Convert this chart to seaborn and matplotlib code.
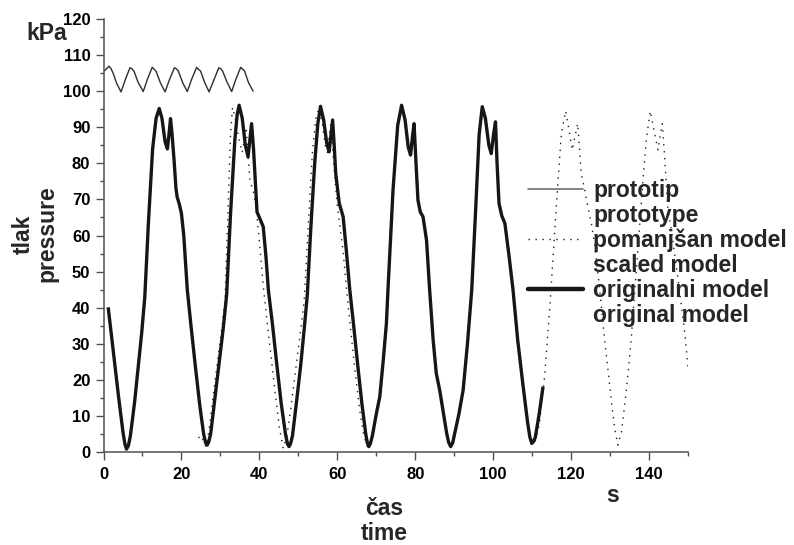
import matplotlib
matplotlib.use("Agg")
import matplotlib.pyplot as plt
from matplotlib.lines import Line2D
from matplotlib.ticker import MultipleLocator
import seaborn as sns

# --- pressure traces (time in s, pressure in kPa) ---
proto_t = [0.2, 1.4, 1.9, 2.5, 3.4, 4.5, 5.7, 6.8, 7.3, 7.8, 8.9, 10.2,
           11.3, 12.5, 13.0, 13.5, 14.6, 15.8, 17.0, 18.2, 18.7, 19.2, 20.3, 21.5,
           22.7, 23.9, 24.4, 24.9, 26.0, 27.1, 28.4, 29.6, 30.1, 30.6, 31.7, 32.9,
           34.0, 35.2, 35.7, 36.2, 37.2, 38.4]
proto_p = [105.6, 106.9, 106.3, 104.9, 102.1, 99.8, 103.5, 106.5, 106.2, 105.6, 102.4, 99.9,
           103.4, 106.6, 106.1, 105.5, 102.3, 99.8, 103.4, 106.5, 106.2, 105.6, 102.4, 99.9,
           103.5, 106.6, 106.0, 105.6, 102.3, 99.8, 103.3, 106.5, 106.2, 105.5, 102.5, 99.9,
           103.4, 106.6, 106.1, 105.6, 102.4, 100.0]

scaled_t = [24.4, 24.9, 25.4, 25.9, 26.3, 27.0, 27.7, 28.6, 29.5, 30.4, 31.2, 32.0,
            32.6, 33.1, 33.8, 34.7, 35.6, 36.1, 36.6, 37.1, 37.6, 38.4, 39.3, 40.2,
            41.0, 42.0, 43.0, 44.1, 45.1, 46.1, 47.0, 48.0, 49.0, 50.0, 50.8, 51.5,
            52.5, 53.6, 54.5, 55.3, 56.1, 56.9, 57.5, 57.9, 58.3, 58.8, 59.3, 60.0,
            60.6, 61.5, 62.4, 63.5, 64.6, 65.7, 66.8, 67.8, 68.9, 69.9, 70.8, 71.7,
            72.5, 72.9, 74.2, 75.4, 76.4, 77.3, 78.1, 78.7, 79.2, 79.6, 80.1, 80.6,
            81.2, 81.9, 82.8, 83.6, 84.5, 85.3, 86.2, 87.1, 88.0, 89.0, 89.9, 91.1,
            92.2, 93.3, 94.4, 95.4, 96.3, 97.1, 97.9, 98.8, 99.4, 100.0, 100.5, 100.9,
            101.4, 102.1, 102.9, 103.9, 105.0, 106.2, 107.5, 108.7, 109.8, 110.6, 111.9, 113.2,
            114.6, 116.2, 117.5, 118.6, 119.5, 120.3, 121.1, 121.7, 122.6, 123.5, 124.3, 125.2,
            126.1, 126.9, 127.8, 128.6, 129.5, 130.3, 131.2, 132.0, 132.9, 133.7, 134.6, 135.4,
            136.5, 137.6, 138.5, 139.3, 140.3, 141.3, 142.3, 142.9, 143.4, 144.0, 144.8, 146.1,
            147.8, 149.1, 150.0]
scaled_p = [4.2, 3.3, 3.8, 2.0, 1.5, 5.5, 11.6, 19.5, 27.0, 34.5, 42.5, 68.0,
            88.0, 95.5, 92.5, 87.0, 83.0, 86.5, 90.0, 82.0, 75.0, 72.6, 66.5, 56.0,
            46.0, 36.0, 26.5, 16.0, 7.0, 1.0, 4.0, 11.5, 20.0, 28.5, 35.5, 42.0,
            62.0, 83.0, 92.5, 95.3, 91.5, 85.0, 83.0, 87.5, 91.0, 84.0, 77.0, 68.0,
            63.3, 55.5, 44.9, 33.0, 22.0, 12.0, 4.5, 1.3, 4.5, 10.5, 15.3, 25.5,
            35.6, 44.9, 72.6, 90.5, 96.0, 92.0, 84.5, 82.3, 87.5, 91.0, 80.0, 69.8,
            66.5, 65.2, 58.7, 44.9, 31.0, 21.8, 17.0, 11.0, 5.0, 1.5, 4.5, 10.5,
            17.2, 30.0, 44.9, 67.0, 88.0, 95.6, 92.5, 85.0, 82.7, 88.0, 91.5, 80.0,
            68.9, 65.5, 63.4, 55.0, 44.9, 31.0, 19.0, 8.5, 2.2, 2.0, 8.0, 21.0,
            41.0, 68.0, 88.3, 94.5, 89.0, 83.7, 88.0, 91.0, 77.2, 72.6, 68.0, 63.4,
            57.0, 49.5, 40.0, 31.0, 22.5, 14.4, 6.5, 1.9, 5.5, 12.5, 21.5, 31.0,
            47.0, 63.4, 76.0, 86.4, 94.5, 89.0, 83.7, 88.0, 91.0, 81.8, 68.0, 58.7,
            44.9, 33.8, 23.6]

orig_t = [1.2, 2.6, 3.9, 5.0, 5.5, 5.9, 6.4, 6.9, 8.0, 9.0, 9.8, 10.6, 11.5, 12.6,
          13.5, 14.3, 15.0, 15.8, 16.4, 16.9, 17.2, 17.6, 18.1, 18.6, 18.9, 19.5,
          20.0, 20.6, 21.5, 22.5, 23.6, 24.7, 25.7, 26.2, 26.6, 27.0, 27.5, 28.6, 29.7, 30.7,
          31.6, 32.6, 33.7, 34.3, 34.8, 35.6, 36.4, 37.1, 37.6, 38.0, 38.5, 39.0,
          39.4, 40.2, 41.0, 41.7, 42.3, 43.4, 44.5, 45.6, 46.7, 47.2, 47.6, 48.0, 48.5, 49.6,
          50.6, 51.5, 52.3, 53.2, 54.2, 55.0, 55.7, 56.5, 57.3, 57.9, 58.4, 58.8,
          59.2, 59.6, 60.5, 61.5, 62.3, 63.2, 64.2, 65.2, 66.3, 67.3, 67.7, 68.1, 68.5, 69.0,
          70.0, 70.9, 71.8, 72.6, 73.0, 74.3, 75.5, 76.5, 77.4, 78.2, 78.8, 79.3,
          79.7, 80.2, 80.7, 81.3, 82.0, 82.9, 83.7, 84.6, 85.4, 86.3, 87.2, 88.1,
          88.6, 89.1, 89.6, 90.0, 91.2, 92.3, 93.4, 94.5, 95.5, 96.4, 97.2, 98.0, 98.9, 99.5,
          100.1, 100.6, 101.0, 101.5, 102.2, 103.0, 104.0, 105.1, 106.3, 107.6, 108.8, 109.4,
          109.9, 110.3, 110.8, 111.8, 112.8]
orig_p = [40.1, 27.0, 15.0, 5.5, 2.2, 0.8, 1.8, 4.5, 14.0, 24.5, 33.0, 43.0, 63.0, 84.0,
          92.5, 95.2, 92.5, 86.0, 84.0, 89.0, 92.4, 88.0, 81.0, 73.0, 70.7, 68.5,
          66.1, 60.0, 45.0, 34.5, 23.5, 13.0, 5.0, 2.6, 1.9, 2.8, 5.0, 15.0, 25.0, 34.0,
          43.5, 66.0, 86.4, 93.5, 96.1, 92.5, 85.0, 81.8, 87.0, 91.0, 84.0, 74.0,
          66.5, 64.5, 62.4, 54.0, 45.0, 35.0, 24.0, 13.5, 5.0, 2.3, 1.5, 2.3, 4.5, 14.5,
          24.0, 34.0, 43.5, 62.0, 80.0, 91.0, 95.8, 92.0, 85.5, 83.2, 88.0, 92.0,
          85.0, 77.2, 68.9, 65.2, 56.0, 45.0, 35.0, 24.5, 13.5, 5.0, 2.5, 1.5, 2.4, 4.5,
          10.5, 15.3, 25.5, 35.6, 44.9, 72.6, 90.5, 96.1, 92.0, 84.5, 82.3, 87.5,
          91.0, 80.0, 69.8, 66.5, 65.2, 58.7, 44.9, 31.0, 21.8, 17.0, 11.0, 5.0,
          2.6, 1.5, 2.5, 4.5, 10.5, 17.2, 30.0, 44.9, 67.0, 88.0, 95.7, 92.5, 85.0, 82.7,
          88.0, 91.5, 80.0, 68.9, 65.5, 63.4, 55.0, 44.9, 31.0, 19.0, 8.5, 4.2,
          2.4, 2.8, 4.0, 10.5, 18.1]

legend_labels = ["prototip", "prototype",
                 "pomanjšan model", "scaled model",
                 "originalni model", "original model"]
x_ticks = [0, 20, 40, 60, 80, 100, 120, 140]
y_ticks = [0, 10, 20, 30, 40, 50, 60, 70, 80, 90, 100, 110, 120]

sns.set_theme(style="ticks")
plt.rcParams["font.family"] = ["Liberation Sans", "DejaVu Sans"]
plt.rcParams["font.weight"] = "bold"
plt.rcParams["axes.labelweight"] = "bold"

W, H = 794, 545
fig = plt.figure(figsize=(W / 100, H / 100), dpi=100)
x0, x1, y_top, y_bot = 103.5, 688.0, 19.0, 452.0
ax = fig.add_axes([x0 / W, (H - y_bot) / H, (x1 - x0) / W, (y_bot - y_top) / H])

ink = "#161616"
proto_style = dict(color="#2e2e2e", linewidth=1.0)
scaled_style = dict(color="#1e1e1e", linewidth=1.0, linestyle=(0, (1, 4)))
orig_style = dict(color=ink, linewidth=2.4, solid_capstyle="butt", solid_joinstyle="round")

sns.lineplot(x=scaled_t, y=scaled_p, ax=ax, sort=False, estimator=None, **scaled_style)
sns.lineplot(x=orig_t, y=orig_p, ax=ax, sort=False, estimator=None, **orig_style)
sns.lineplot(x=proto_t, y=proto_p, ax=ax, sort=False, estimator=None, **proto_style)

ax.set_xlim(0, 150)
ax.set_ylim(0, 120)
ax.set_xticks(x_ticks)
ax.set_yticks(y_ticks)
ax.xaxis.set_minor_locator(MultipleLocator(10))
ax.yaxis.set_minor_locator(MultipleLocator(5))

spine_col = "#505050"
for side in ("top", "right"):
    ax.spines[side].set_visible(False)
for side in ("left", "bottom"):
    ax.spines[side].set_color(spine_col)
    ax.spines[side].set_linewidth(1.1)
ax.tick_params(axis="both", which="major", direction="out", length=6, width=1.0,
               color=spine_col, labelsize=12, labelcolor="black")
ax.tick_params(axis="x", which="major", pad=5)
ax.tick_params(axis="y", which="major", pad=3.5)
ax.tick_params(axis="both", which="minor", direction="out", length=3, width=1.0,
               color=spine_col)
for lab in ax.get_xticklabels() + ax.get_yticklabels():
    lab.set_fontweight("bold")

label_size = 16.5
# va="baseline" on a two-line label anchors the last line's baseline
ax.set_xlabel("čas\ntime", fontsize=label_size, fontweight="bold", linespacing=1.1,
              va="baseline", ha="center")
ax.xaxis.set_label_coords((384 - x0) / (x1 - x0), (y_bot - 539.5) / (y_bot - y_top))
ax.set_ylabel("tlak\npressure", fontsize=label_size, fontweight="bold", linespacing=1.0,
              va="center", ha="center")
ax.yaxis.set_label_coords((35 - x0) / (x1 - x0), (y_bot - 234) / (y_bot - y_top))

fig.text(46.7 / W, 1 - 40 / H, "kPa", fontsize=label_size, fontweight="bold",
         ha="center", va="baseline")
fig.text(612.3 / W, 1 - 501.7 / H, "s", fontsize=label_size, fontweight="bold",
         ha="center", va="baseline")

blank = Line2D([], [], color="none")
handles = [Line2D([], [], color="#707070", linewidth=1.2), blank,
           Line2D([], [], **scaled_style), blank,
           Line2D([], [], color=ink, linewidth=3.2), blank]
ax.legend(handles, legend_labels, loc="upper left",
          bbox_to_anchor=(528 / W, 1 - 179 / H), bbox_transform=fig.transFigure,
          frameon=False, borderpad=0, borderaxespad=0, handlelength=2.4,
          handletextpad=0.45, labelspacing=0.08,
          prop=dict(family=["Liberation Sans", "DejaVu Sans"], weight="bold", size=label_size))

fig.savefig("out.png", dpi=100)
